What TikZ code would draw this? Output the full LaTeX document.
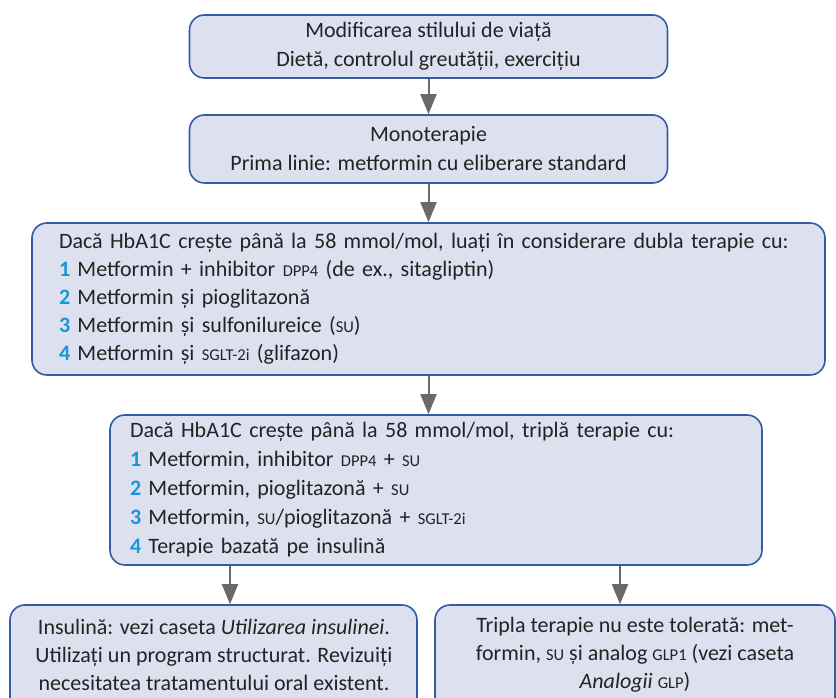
\documentclass[tikz,border=0pt]{standalone}
\usepackage{fontspec}
\setmainfont{Carlito}
\usetikzlibrary{arrows.meta}
\newcommand{\acr}[1]{{\fontsize{16.5}{28}\selectfont #1}}
\newcommand{\stepno}[1]{\textcolor{numblue}{\bfseries #1}}
\begin{document}
\begin{tikzpicture}[x=1pt, y=1pt,
    stage/.style={draw=boxline, fill=boxfill, line width=1.6pt, rounded corners=15pt, inner sep=0pt},
    boxtext/.style={text=textgray, font=\fontsize{22}{28}\selectfont, inner sep=0pt},
    flow/.style={draw=arrowgray, line width=2pt, -{Triangle[width=16pt,length=20pt]}}]
\definecolor{boxfill}{RGB}{221,224,239}
\definecolor{boxline}{RGB}{52,92,165}
\definecolor{numblue}{RGB}{25,150,215}
\definecolor{textgray}{RGB}{35,35,35}
\definecolor{arrowgray}{RGB}{105,105,105}
\clip (0,0) rectangle (836,698);
% lifestyle and first line
\node[stage, boxtext, minimum width=478pt, minimum height=63pt, align=center] (life) at (428.5,651.5)
  {Modificarea stilului de viață\\[1pt]Dietă, controlul greutății, exercițiu};
\node[stage, boxtext, minimum width=478pt, minimum height=68pt, align=center] (mono) at (428.5,549)
  {Monoterapie\\[1pt]Prima linie: metformin cu eliberare standard};
% dual therapy
\node[stage, boxtext, text width=739pt, inner xsep=27pt, minimum height=152pt, align=left] (dual) at (428.5,399)
  {Dacă HbA1C crește până la 58 mmol/mol, luați în considerare dubla terapie cu:\\
   \stepno{1} Metformin + inhibitor \acr{DPP4} (de ex., sitagliptin)\\
   \stepno{2} Metformin și pioglitazonă\\
   \stepno{3} Metformin și sulfonilureice (\acr{SU})\\
   \stepno{4} Metformin și \acr{SGLT-2i} (glifazon)};
% triple therapy
\node[stage, boxtext, text width=612pt, inner xsep=20pt, minimum height=150pt, align=left] (triple) at (436,208)
  {Dacă HbA1C crește până la 58 mmol/mol, triplă terapie cu:\\[1pt]
   \stepno{1} Metformin, inhibitor \acr{DPP4} + \acr{SU}\\[1pt]
   \stepno{2} Metformin, pioglitazonă + \acr{SU}\\[1pt]
   \stepno{3} Metformin, \acr{SU}/pioglitazonă + \acr{SGLT-2i}\\[1pt]
   \stepno{4} Terapie bazată pe insulină};
% last two boxes (cut at the bottom)
\node[stage, minimum width=407pt, minimum height=110pt] (insul) at (213.5,38) {};
\node[boxtext, align=center] (insultxt) at (214,43)
  {Insulină: vezi caseta \textit{Utilizarea insulinei}.\\
   Utilizați un program structurat. Revizuiți\\
   necesitatea tratamentului oral existent.};
\node[stage, minimum width=400pt, minimum height=110pt] (glp) at (635,38) {};
\node[boxtext, align=center] (glptxt) at (635,43)
  {Tripla terapie nu este tolerată: met-\\
   formin, \acr{SU} și analog \acr{GLP1} (vezi caseta\\
   \textit{Analogii} \acr{GLP})};
% arrows
\draw[flow] (life.south) -- (mono.north);
\draw[flow] (mono.south) -- (dual.north);
\draw[flow] (dual.south) -- (dual.south |- triple.north);
\draw[flow] ([xshift=16.5pt]insul.north |- triple.south) -- ([xshift=16.5pt]insul.north);
\draw[flow] ([xshift=-15pt]glp.north |- triple.south) -- ([xshift=-15pt]glp.north);
\end{tikzpicture}
\end{document}
